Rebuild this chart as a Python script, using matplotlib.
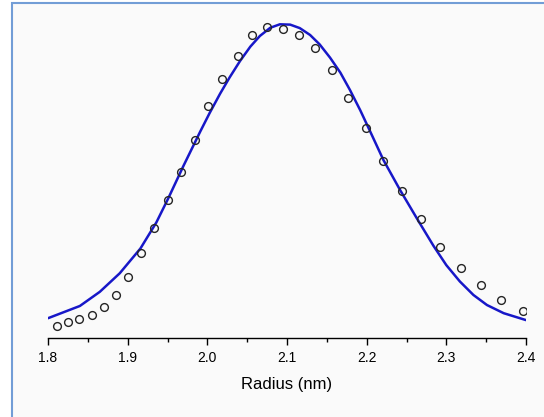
import matplotlib.pyplot as plt
from matplotlib.patches import Rectangle
from matplotlib.ticker import MultipleLocator

# measured points (radius in nm, normalised intensity)
radius = [1.811, 1.825, 1.839, 1.855, 1.870, 1.885, 1.901, 1.917, 1.933,
          1.950, 1.967, 1.984, 2.001, 2.019, 2.038, 2.056, 2.075, 2.095,
          2.115, 2.135, 2.156, 2.177, 2.199, 2.221, 2.244, 2.268, 2.292,
          2.318, 2.343, 2.369, 2.396]
intensity = [0.038, 0.050, 0.061, 0.072, 0.098, 0.137, 0.195, 0.270, 0.350,
             0.439, 0.530, 0.631, 0.739, 0.824, 0.898, 0.966, 0.991, 0.985,
             0.964, 0.923, 0.854, 0.764, 0.669, 0.563, 0.467, 0.378, 0.291,
             0.224, 0.170, 0.121, 0.085]

# fitted curve
fit_r = [1.800, 1.840, 1.865, 1.890, 1.916, 1.936, 1.951, 1.970, 1.991,
         2.003, 2.016, 2.028, 2.041, 2.054, 2.066, 2.079, 2.091, 2.104,
         2.116, 2.129, 2.141, 2.154, 2.167, 2.179, 2.192, 2.204, 2.221,
         2.242, 2.263, 2.284, 2.300, 2.317, 2.334, 2.351, 2.372, 2.400]
fit_y = [0.063, 0.102, 0.147, 0.206, 0.285, 0.368, 0.445, 0.548, 0.657,
         0.717, 0.778, 0.830, 0.882, 0.928, 0.962, 0.988, 0.999, 0.998,
         0.987, 0.965, 0.935, 0.893, 0.845, 0.790, 0.725, 0.660, 0.567,
         0.471, 0.381, 0.293, 0.232, 0.180, 0.137, 0.105, 0.079, 0.057]

fig = plt.figure(figsize=(5.44, 4.17), dpi=100, facecolor='white')
plt.rcParams['font.family'] = ['Liberation Sans', 'DejaVu Sans']

# light panel with blue border
panel = Rectangle((12 / 544, -0.2), 1.2, 1.2 - 3 / 417,
                  transform=fig.transFigure, facecolor='#fafafa',
                  edgecolor='#729dd6', linewidth=1.5, zorder=-5)
fig.add_artist(panel)

ax = fig.add_axes([48 / 544, 1 - 338 / 417, 478 / 544, 328 / 417])
ax.patch.set_visible(False)

ax.plot(fit_r, fit_y, color='#1717c8', linewidth=1.8, zorder=2,
        solid_joinstyle='round', solid_capstyle='round')
ax.plot(radius, intensity, linestyle='none', marker='o', markersize=5.6,
        markerfacecolor='none', markeredgecolor='#252525',
        markeredgewidth=1.0, zorder=3)

ax.set_xlim(1.8, 2.4)
ax.set_ylim(0, 328 / 314)
ax.xaxis.set_minor_locator(MultipleLocator(0.05))
ax.set_xticks([1.8, 1.9, 2.0, 2.1, 2.2, 2.3, 2.4])
ax.set_xticklabels(['1.8', '1.9', '2.0', '2.1', '2.2', '2.3', '2.4'])
ax.tick_params(axis='x', which='major', length=5, width=1, pad=4,
               labelsize=10, direction='out')
ax.tick_params(axis='x', which='minor', length=3, width=1, direction='out')
ax.set_yticks([])
for side in ['left', 'top', 'right']:
    ax.spines[side].set_visible(False)
ax.spines['bottom'].set_linewidth(1)
ax.set_xlabel('Radius (nm)', fontsize=12, labelpad=9)

fig.savefig('out.png', dpi=100, facecolor=fig.get_facecolor())
